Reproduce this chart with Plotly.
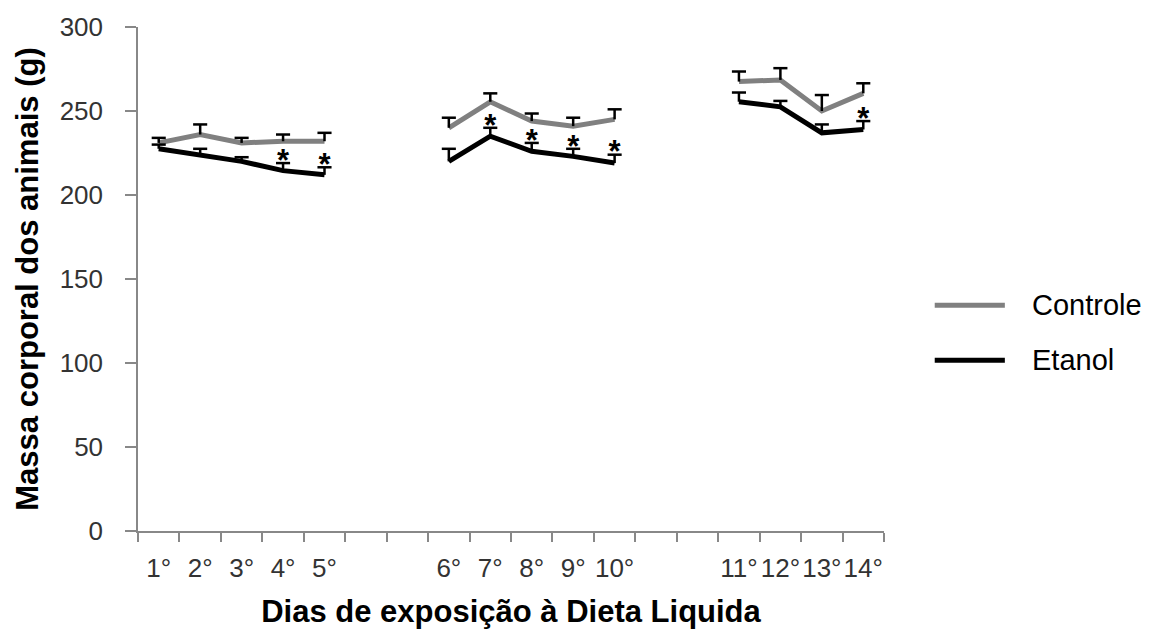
import plotly.graph_objects as go

# Dias de exposição e blocos de medida
dias = ["1°", "2°", "3°", "4°", "5°",
        "6°", "7°", "8°", "9°", "10°",
        "11°", "12°", "13°", "14°"]
bloco = [0, 0, 0, 0, 0, 1, 1, 1, 1, 1, 2, 2, 2, 2]

# Massa corporal média (g) e erro padrão
controle = [231, 236, 231, 232, 232,
            240, 255.5, 244, 241, 245,
            267.5, 268.5, 250, 260.5]
erro_controle = [3, 6, 3, 4, 5,
                 6, 5, 4.5, 5, 6,
                 6, 7, 9.5, 6]
etanol = [227.5, 223.5, 220, 214.5, 212,
          220, 235, 226, 223, 219,
          255.5, 252.5, 237, 239]
erro_etanol = [2.5, 4, 2.5, 4.5, 4.5,
               7.5, 5, 5, 4.5, 5,
               5.5, 3.5, 5, 5]
# diferença significativa Etanol vs Controle
signif = [False, False, False, True, True,
          False, True, True, True, True,
          False, False, False, True]

series = [("Controle", controle, erro_controle, "#808080"),
          ("Etanol", etanol, erro_etanol, "#000000")]

GAP = 2          # posições vazias entre blocos
CAP = 0.17       # meia largura do traço superior da barra de erro (em posições)
pos = [i + GAP * b for i, b in enumerate(bloco)]
n_slots = pos[-1] + 1


def with_breaks(vals):
    xs, ys = [], []
    for k, (p, v) in enumerate(zip(pos, vals)):
        if k > 0 and bloco[k] != bloco[k - 1]:
            xs.append(None)
            ys.append(None)
        xs.append(p)
        ys.append(v)
    return xs, ys


def upper_error_path(vals, err):
    # barra vertical do valor até valor+erro, com traço horizontal no topo
    xs, ys = [], []
    for p, v, e in zip(pos, vals, err):
        top = v + e
        xs += [p, p, None, p - CAP, p + CAP, None]
        ys += [v, top, None, top, top, None]
    return xs, ys


fig = go.Figure()
FONT = "Liberation Sans, Arial, sans-serif"

for nome, vals, err, cor in series:
    xs, ys = with_breaks(vals)
    fig.add_trace(go.Scatter(
        x=xs, y=ys, mode="lines", name=nome,
        line=dict(color=cor, width=5), connectgaps=False,
        showlegend=False, hoverinfo="skip"))

# barras de erro (apenas para cima)
for nome, vals, err, cor in series:
    xs, ys = upper_error_path(vals, err)
    fig.add_trace(go.Scatter(
        x=xs, y=ys, mode="lines", connectgaps=False,
        line=dict(color="#000000", width=2.5),
        showlegend=False, hoverinfo="skip"))

# asteriscos de significância
ast_x = [p for p, s in zip(pos, signif) if s]
ast_y = [v + e for v, e, s in zip(etanol, erro_etanol, signif) if s]
fig.add_trace(go.Scatter(
    x=ast_x, y=ast_y, mode="text", text=["<b>*</b>"] * len(ast_x),
    textposition="middle center",
    textfont=dict(family=FONT, size=31, color="#000000"),
    showlegend=False, hoverinfo="skip"))

# legenda
leg_y = [0.448, 0.339]
for (nome, vals, err, cor), yy in zip(series, leg_y):
    fig.add_shape(type="line", xref="paper", yref="paper",
                  x0=1.068, x1=1.162, y0=yy, y1=yy,
                  line=dict(color=cor, width=5))
    fig.add_annotation(xref="paper", yref="paper", x=1.196, y=yy,
                       text=nome, showarrow=False, xanchor="left",
                       yanchor="middle",
                       font=dict(family=FONT, size=29, color="#000000"))

fig.update_layout(
    width=1169, height=635,
    margin=dict(l=138, r=285, t=25, b=103),
    plot_bgcolor="white", paper_bgcolor="white",
    font=dict(family=FONT, color="#222222"),
)
fig.update_xaxes(
    range=[-0.5, n_slots - 0.5],
    tickmode="array", tickvals=pos, ticktext=dias,
    ticks="", ticklabelstandoff=13,
    tickfont=dict(family=FONT, size=26, color="#333333"),
    showline=True, linecolor="#888888", linewidth=1.5,
    showgrid=False, zeroline=False,
    minor=dict(tickmode="array",
               tickvals=[k - 0.5 for k in range(n_slots + 1)],
               ticks="outside", ticklen=9, tickcolor="#888888",
               tickwidth=1.5, showgrid=False),
    title=dict(text="<b>Dias de exposição à Dieta Liquida</b>",
               font=dict(family=FONT, size=31, color="#000000"),
               standoff=18),
)
fig.update_yaxes(
    range=[0, 300], tickmode="array", tickvals=[0, 50, 100, 150, 200, 250, 300],
    ticks="outside", ticklen=11, tickcolor="#888888", tickwidth=1.5,
    ticklabelstandoff=17,
    tickfont=dict(family=FONT, size=26, color="#333333"),
    showline=True, linecolor="#888888", linewidth=1.5,
    showgrid=False, zeroline=False,
    title=dict(text="<b>Massa corporal dos animais (g)</b>",
               font=dict(family=FONT, size=31, color="#000000"),
               standoff=12),
)

fig.write_html("out.html")
